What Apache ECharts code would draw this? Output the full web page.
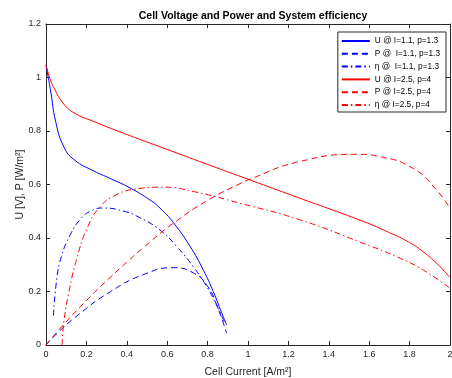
<!DOCTYPE html>
<html>
<head>
<meta charset="utf-8">
<script src="https://cdn.jsdelivr.net/npm/echarts@6/dist/echarts.min.js"></script>
<style>
  html, body { margin: 0; padding: 0; background: #fff; }
  #chart { width: 452px; height: 378px; }
</style>
</head>
<body>
<div id="chart"></div>
<script>
// values, [current, value]
const legendNames = [
  'U @ I=1.1, p=1.3', 'P @  I=1.1, p=1.3', 'η @  I=1.1, p=1.3',
  'U @ I=2.5, p=4', 'P @ I=2.5, p=4', 'η @ I=2.5, p=4'
];
const u1 = [[0, 1.047], [0.01, 1.005], [0.023, 0.95], [0.048, 0.835], [0.089, 0.74], [0.139, 0.693], [0.238, 0.65], [0.317, 0.623], [0.416, 0.587], [0.515, 0.542], [0.564, 0.512], [0.63, 0.458], [0.713, 0.369], [0.779, 0.28], [0.828, 0.2], [0.87, 0.12], [0.894, 0.075]];
const p1 = [[0, 0], [0.05, 0.04], [0.155, 0.11], [0.32, 0.2], [0.485, 0.264], [0.63, 0.289], [0.729, 0.27], [0.796, 0.224], [0.845, 0.15], [0.894, 0.044]];
const eta1 = [[0.037, 0.11], [0.054, 0.25], [0.078, 0.335], [0.12, 0.412], [0.17, 0.47], [0.22, 0.5], [0.286, 0.512], [0.386, 0.5], [0.449, 0.482], [0.564, 0.43], [0.647, 0.368], [0.729, 0.293], [0.796, 0.218], [0.845, 0.148], [0.886, 0.081]];
const u2 = [[0, 1.047], [0.02, 0.995], [0.04, 0.96], [0.089, 0.9], [0.139, 0.868], [0.238, 0.835], [0.386, 0.791], [0.564, 0.741], [0.8, 0.675], [1.01, 0.617], [1.241, 0.553], [1.571, 0.462], [1.7, 0.42], [1.8, 0.383], [1.868, 0.348], [1.935, 0.305], [1.967, 0.28], [2.0, 0.252]];
const p2 = [[0, 0], [0.089, 0.078], [0.238, 0.195], [0.317, 0.252], [0.403, 0.312], [0.482, 0.364], [0.63, 0.455], [0.812, 0.546], [0.96, 0.603], [1.01, 0.62], [1.241, 0.683], [1.538, 0.713], [1.653, 0.704], [1.818, 0.66], [1.934, 0.579], [2.0, 0.511]];
const eta2 = [[0.08, 0], [0.088, 0.085], [0.12, 0.222], [0.152, 0.322], [0.202, 0.434], [0.269, 0.518], [0.352, 0.563], [0.435, 0.582], [0.583, 0.59], [0.729, 0.574], [0.96, 0.53], [1.257, 0.468], [1.571, 0.38], [1.736, 0.33], [1.868, 0.28], [2.0, 0.212]];

const seriesData = [u1, p1, eta1, u2, p2, eta2];
const colors = ['#0000ff', '#0000ff', '#0000ff', '#ff0000', '#ff0000', '#ff0000'];
const dashes = ['solid', [6, 4], [6, 3, 1.5, 3], 'solid', [6, 4], [6, 3, 1.5, 3]];

const FONT = '"Liberation Sans", Arial, sans-serif';
const AXIS_COLOR = '#262626';

const chart = echarts.init(document.getElementById('chart'));

function boxAxis(isX, pos, showLabel) {
  return {
    type: 'value',
    position: pos,
    min: 0,
    max: isX ? 2 : 1.2,
    interval: 0.2,
    axisLine: { show: true, onZero: false, lineStyle: { color: AXIS_COLOR, width: 1 } },
    axisTick: { show: true, inside: true, length: 4, lineStyle: { color: AXIS_COLOR } },
    axisLabel: {
      show: showLabel, color: AXIS_COLOR, fontFamily: FONT, fontSize: 9, margin: 5,
      formatter: v => String(+v.toFixed(1))
    },
    splitLine: { show: false }
  };
}

const xMain = boxAxis(true, 'bottom', true);
xMain.name = 'Cell Current [A/m²]';
xMain.nameLocation = 'middle';
xMain.nameGap = 22;
xMain.nameMoveOverlap = false;
xMain.nameTextStyle = { color: AXIS_COLOR, fontFamily: FONT, fontSize: 10.5 };

const yMain = boxAxis(false, 'left', true);
yMain.name = 'U [V], P [W/m²]';
yMain.nameLocation = 'middle';
yMain.nameGap = 20;
yMain.nameMoveOverlap = false;
yMain.nameTextStyle = { color: AXIS_COLOR, fontFamily: FONT, fontSize: 10.5 };

chart.setOption({
  animation: false,
  backgroundColor: '#fff',
  title: {
    text: 'Cell Voltage and Power and System efficiency',
    left: 248,
    top: 6,
    textAlign: 'center',
    textStyle: { fontFamily: FONT, fontSize: 10.5, fontWeight: 'bold', color: '#000' }
  },
  grid: { left: 46, top: 24, right: 2, bottom: 33, outerBoundsMode: 'none', containLabel: false },
  xAxis: [xMain, boxAxis(true, 'top', false)],
  yAxis: [yMain, boxAxis(false, 'right', false)],
  legend: {
    data: legendNames,
    orient: 'vertical',
    right: 6,
    top: 32,
    itemWidth: 28,
    itemHeight: 8,
    itemGap: 2.8,
    padding: [4, 6, 2, 3],
    backgroundColor: '#fff',
    borderColor: AXIS_COLOR,
    borderWidth: 1,
    borderRadius: 0,
    itemStyle: { opacity: 0 },
    textStyle: { fontFamily: FONT, fontSize: 8.3, lineHeight: 10, color: '#000' }
  },
  series: seriesData.map((d, i) => ({
    name: legendNames[i],
    type: 'line',
    data: d,
    smooth: 0.5,
    symbol: 'none',
    color: colors[i],
    lineStyle: { color: colors[i], width: 1, type: dashes[i] }
  }))
});
</script>
</body>
</html>
